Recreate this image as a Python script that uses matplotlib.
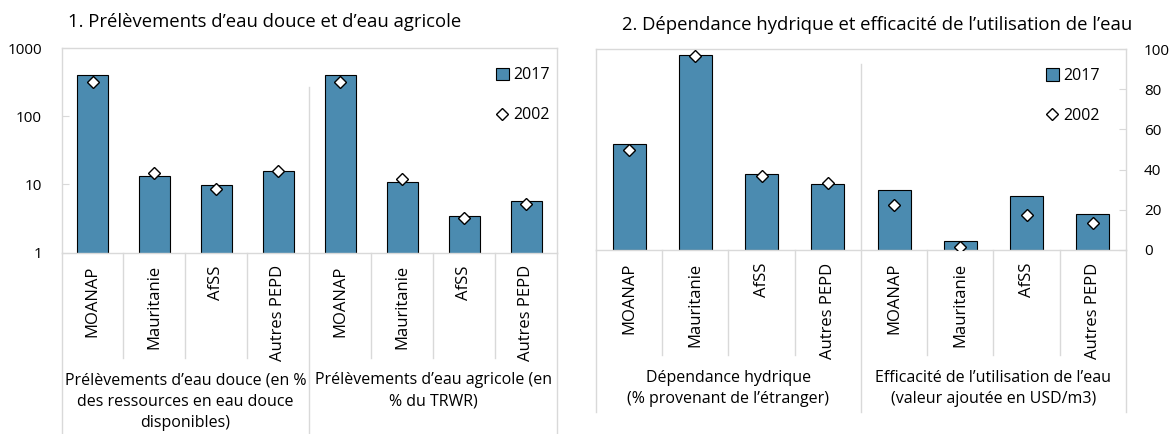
import numpy as np
import matplotlib.pyplot as plt
from matplotlib.patches import Patch
from matplotlib.lines import Line2D

plt.rcParams['font.family'] = ['Open Sans', 'DejaVu Sans']

# donnees
categories = ["MOANAP", "Mauritanie", "AfSS", "Autres PEPD"]

douce_2017 = [400, 13.4, 9.9, 15.5]
douce_2002 = [313, 14.7, 8.6, 15.7]
agri_2017 = [400, 10.7, 3.46, 5.7]
agri_2002 = [315, 12.1, 3.27, 5.14]

dep_2017 = [52.7, 97.0, 37.8, 33.0]
dep_2002 = [49.6, 96.5, 37.0, 33.2]
eff_2017 = [29.9, 4.3, 27.0, 17.9]
eff_2002 = [22.4, 1.7, 17.3, 13.6]

groupes_1 = ["Prélèvements d’eau douce (en %\ndes ressources en eau douce\ndisponibles)",
             "Prélèvements d’eau agricole (en\n% du TRWR)"]
groupes_2 = ["Dépendance hydrique\n(% provenant de l’étranger)",
             "Efficacité de l’utilisation de l’eau\n(valeur ajoutée en USD/m3)"]

titre_1 = "1. Prélèvements d’eau douce et d’eau agricole"
titre_2 = "2. Dépendance hydrique et efficacité de l’utilisation de l’eau"

bleu = '#4B8BB0'
gris = '#D9D9D9'


def draw_panel(ax, v17, v02, groupes, sep_bas, grp_haut, grp_bas, lab_y):
    x = np.arange(len(v17))
    ax.bar(x, v17, width=0.5, color=bleu, edgecolor='black', linewidth=0.8,
           zorder=2, label='2017')
    ax.plot(x, v02, linestyle='none', marker='D', markersize=6,
            markerfacecolor='white', markeredgecolor='black',
            markeredgewidth=1, zorder=3, label='2002')
    ax.set_xlim(-0.5, len(v17) - 0.5)
    ax.set_xticks(x)
    ax.set_xticklabels(categories * 2, rotation=90, fontsize=12)
    ax.tick_params(axis='x', length=0, pad=9)
    for s in ax.spines.values():
        s.set_color(gris)
        s.set_linewidth(1)
    trans = ax.get_xaxis_transform()
    # separateurs entre categories
    for i in range(1, len(v17)):
        if i == 4:
            ax.plot([i - 0.5, i - 0.5], [grp_haut, grp_bas], color=gris,
                    linewidth=1, transform=trans, clip_on=False, zorder=1)
        else:
            ax.plot([i - 0.5, i - 0.5], [0, sep_bas], color=gris,
                    linewidth=1, transform=trans, clip_on=False, zorder=1)
    for xe in [-0.5, len(v17) - 0.5]:
        ax.plot([xe, xe], [0, grp_bas], color=gris, linewidth=1,
                transform=trans, clip_on=False)
    for g, lab in enumerate(groupes):
        ax.text(1.5 + 4 * g, lab_y, lab, transform=trans, ha='center',
                va='top', fontsize=11.5, linespacing=1.45)


fig = plt.figure(figsize=(11.72, 4.34), dpi=100)
ax1 = fig.add_axes([0.0525, 0.4177, 0.4228, 0.4717])
ax2 = fig.add_axes([0.5085, 0.424, 0.4522, 0.463])

# panneau 1 : echelle log
draw_panel(ax1, douce_2017 + agri_2017, douce_2002 + agri_2002, groupes_1,
           -0.514, 0.81, -0.886, -0.585)
ax1.set_yscale('log')
ax1.set_ylim(1, 1000)
ax1.set_yticks([1, 10, 100, 1000])
ax1.set_yticklabels(['1', '10', '100', '1000'])
ax1.minorticks_off()
ax1.tick_params(axis='y', direction='in', length=5, color=gris,
                labelsize=11, pad=14)

# panneau 2 : axe a droite
draw_panel(ax2, dep_2017 + eff_2017, dep_2002 + eff_2002, groupes_2,
           -0.522, 0.925, -0.806, -0.595)
ax2.set_ylim(0, 100)
ax2.set_yticks(range(0, 101, 20))
ax2.yaxis.tick_right()
ax2.tick_params(axis='y', direction='in', length=5, color=gris,
                labelsize=11, pad=13)

handles = [Patch(facecolor=bleu, edgecolor='black', linewidth=0.8),
           Line2D([], [], linestyle='none', marker='D', markersize=6,
                  markerfacecolor='white', markeredgecolor='black')]
for ax, bx in [(ax1, 0.986), (ax2, 0.951)]:
    ax.legend(handles, ['2017', '2002'], loc='upper right',
              bbox_to_anchor=(bx, 0.905), frameon=False, fontsize=11.5,
              handlelength=0.8, handleheight=0.8, handletextpad=0.3,
              labelspacing=1.5, borderpad=0, borderaxespad=0)

fig.text(68 / 1172, 1 - 22 / 434, titre_1, fontsize=13.3, va='center', ha='left')
fig.text(622 / 1172, 1 - 25 / 434, titre_2, fontsize=13.3, va='center', ha='left')

fig.savefig('out.png', dpi=100)
